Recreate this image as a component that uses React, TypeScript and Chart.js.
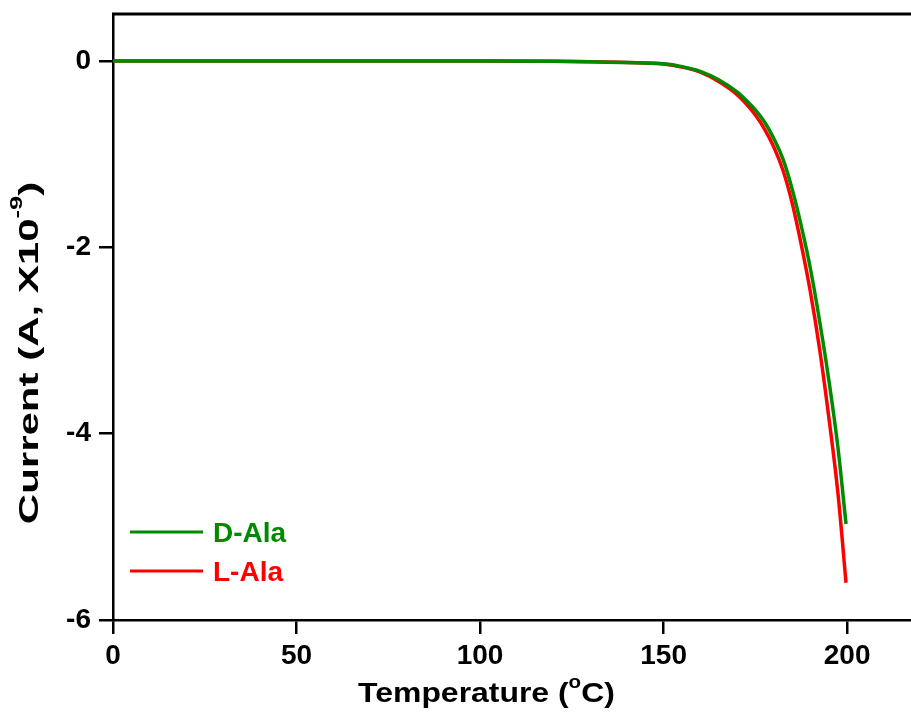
import React, { useEffect, useRef } from "react";
import { Chart, registerables } from "chart.js";

Chart.register(...registerables);

// Temperature (°C)
const temps = [0, 20, 40, 60, 80, 100, 120, 130, 140, 150, 155, 160, 165, 170, 172.5, 175, 177.5, 180, 182.5, 185, 187.5, 190, 192.5, 195, 197.5, 199.7];
// Current (A, x10^-9)
const dAla = [0, 0, 0, 0, 0, 0, -0.003, -0.008, -0.015, -0.03, -0.06, -0.11, -0.2, -0.33, -0.42, -0.525, -0.655, -0.83, -1.05, -1.37, -1.77, -2.23, -2.79, -3.42, -4.15, -4.97];
const lAla = [0, 0, 0, 0, 0, 0, -0.003, -0.008, -0.016, -0.032, -0.065, -0.12, -0.22, -0.36, -0.46, -0.58, -0.73, -0.92, -1.17, -1.52, -1.97, -2.48, -3.09, -3.82, -4.64, -5.6];

const xTicks = [0, 50, 100, 150, 200];
const yTicks = [-6, -4, -2, 0];

const seriesLabels = ["D-Ala", "L-Ala"];
const seriesColors = ["#008a00", "#ff0000"];

const FONT = "'Liberation Sans', Arial, Helvetica, sans-serif";

type Part = { text: string; sup?: boolean };

function drawRich(ctx: CanvasRenderingContext2D, parts: Part[], size: number, supSize: number, raise: number) {
  const mainFont = `bold ${size}px ${FONT}`;
  const supFont = `bold ${supSize}px ${FONT}`;
  let total = 0;
  const widths = parts.map((p) => {
    ctx.font = p.sup ? supFont : mainFont;
    const w = ctx.measureText(p.text).width;
    total += w;
    return w;
  });
  let x = -total / 2;
  ctx.textBaseline = "alphabetic";
  ctx.textAlign = "left";
  parts.forEach((p, i) => {
    ctx.font = p.sup ? supFont : mainFont;
    ctx.fillText(p.text, x, p.sup ? -raise : 0);
    x += widths[i];
  });
}

const decorPlugin = {
  id: "decor",
  afterDraw(chart: any) {
    const { ctx, chartArea } = chart;
    const { left, right, top, bottom } = chartArea;
    ctx.save();
    // top frame line
    ctx.strokeStyle = "#000";
    ctx.lineWidth = 3;
    ctx.beginPath();
    ctx.moveTo(left - 1, top);
    ctx.lineTo(right, top);
    ctx.stroke();

    // legend
    chart.data.datasets.forEach((ds: any, i: number) => {
      const y = bottom - 88 + i * 39;
      ctx.strokeStyle = ds.borderColor;
      ctx.lineWidth = 3;
      ctx.beginPath();
      ctx.moveTo(left + 17, y);
      ctx.lineTo(left + 90, y);
      ctx.stroke();
      ctx.fillStyle = ds.borderColor;
      ctx.font = `bold 28px ${FONT}`;
      ctx.textAlign = "left";
      ctx.textBaseline = "alphabetic";
      ctx.fillText(ds.label, left + 100, y + 10);
    });

    // x axis title
    ctx.fillStyle = "#000";
    ctx.save();
    ctx.translate(left + (right - left) * 0.468, bottom + 82);
    ctx.scale(1.14, 1);
    drawRich(ctx, [{ text: "Temperature (" }, { text: "o", sup: true }, { text: "C)" }], 28, 18, 14);
    ctx.restore();

    // y axis title
    ctx.save();
    ctx.translate(38, (top + bottom) / 2 + 36);
    ctx.rotate(-Math.PI / 2);
    ctx.scale(1.5, 1);
    drawRich(ctx, [{ text: "Current (A, X10" }, { text: "-9", sup: true }, { text: ")" }], 28, 17, 16);
    ctx.restore();

    ctx.restore();
  },
};

const zeroPad = (s: any) => {
  s.paddingTop = 0;
  s.paddingBottom = 0;
  s.paddingLeft = 0;
  s.paddingRight = 0;
};

export default function App() {
  const ref = useRef<HTMLCanvasElement>(null);
  useEffect(() => {
    document.body.style.margin = "0";
    document.body.style.background = "#fff";
    const series = [dAla, lAla];
    const chart = new Chart(ref.current as HTMLCanvasElement, {
      type: "line",
      data: {
        datasets: series.map((vals, si) => ({
          label: seriesLabels[si],
          data: temps.map((t, i) => ({ x: t, y: vals[i] })),
          borderColor: seriesColors[si],
          backgroundColor: seriesColors[si],
          borderWidth: 3.5,
          pointRadius: 0,
          fill: false,
          cubicInterpolationMode: "monotone" as const,
        })),
      },
      options: {
        responsive: false,
        animation: false,
        devicePixelRatio: 1,
        layout: { padding: { top: 14, right: 0, left: 0, bottom: 0 } },
        plugins: { legend: { display: false }, tooltip: { enabled: false } },
        scales: {
          x: {
            type: "linear",
            min: 0,
            max: 217.4,
            afterBuildTicks: (s: any) => {
              s.ticks = xTicks.map((v) => ({ value: v }));
            },
            afterFit: (s: any) => {
              s.height = 99;
              zeroPad(s);
            },
            grid: { drawOnChartArea: false, drawTicks: true, tickLength: 14, color: "#000", lineWidth: 2.5 },
            border: { display: true, color: "#000", width: 2.5 },
            ticks: { color: "#000", font: { family: FONT, size: 28, weight: "bold" }, padding: 5, maxRotation: 0 },
          },
          y: {
            type: "linear",
            min: -6,
            max: 0.505,
            afterBuildTicks: (s: any) => {
              s.ticks = yTicks.map((v) => ({ value: v }));
            },
            afterFit: (s: any) => {
              s.width = 113;
              zeroPad(s);
            },
            grid: { drawOnChartArea: false, drawTicks: true, tickLength: 14, color: "#000", lineWidth: 2.5 },
            border: { display: true, color: "#000", width: 2.5 },
            ticks: { color: "#000", font: { family: FONT, size: 28, weight: "bold" }, padding: 8 },
          },
        },
      },
      plugins: [decorPlugin],
    } as any);
    return () => chart.destroy();
  }, []);
  return <canvas ref={ref} width={911} height={719} style={{ display: "block" }} />;
}
